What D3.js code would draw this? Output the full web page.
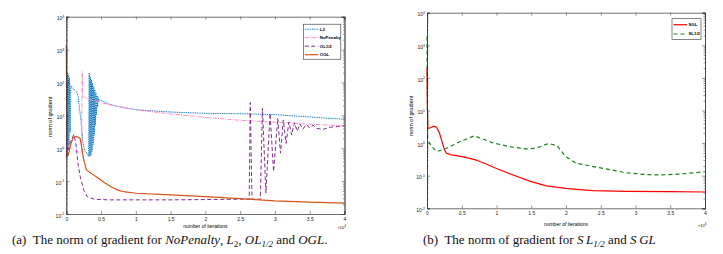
<!DOCTYPE html>
<html>
<head>
<meta charset="utf-8">
<script src="https://cdn.jsdelivr.net/npm/d3@7"></script>
<style>
body { margin: 0; background: #fff; }
svg { display: block; }
</style>
</head>
<body>
<div id="chart"></div>
<script>
// axis ticks (x in units of 10^4 iterations)
var xTicks = [0, 0.5, 1, 1.5, 2, 2.5, 3, 3.5, 4];
var xTickLabels = ["0", "0.5", "1", "1.5", "2", "2.5", "3", "3.5", "4"];
var yTickExps = [-2, -1, 0, 1, 2, 3, 4];

// panel (a): [iterations/1e4, norm of gradient]
var seriesL2 = [[0,0.79],[0.008,1.5],[0.015,200],[0.022,0.9],[0.03,170],[0.038,1.2],[0.046,140],[0.055,3],
  [0.065,80],[0.08,70],[0.1,63.1],[0.125,58.9],[0.15,50.1],[0.17,37.2],[0.19,15.8],[0.21,7.24],[0.24,1.41],
  [0.27,0.79],[0.3,0.71],[0.32,0.56],[0.33,191],[0.338,0.56],[0.346,150],[0.354,0.6],[0.362,120],[0.37,0.8],
  [0.378,95],[0.386,1.3],[0.394,75],[0.402,2.5],[0.41,60],[0.418,5],[0.426,48],[0.434,10],[0.442,40],
  [0.45,18],[0.458,35],[0.466,26],[0.48,30],[0.6,22.4],[0.8,17.4],[1.0,14.8],[1.5,12.6],[2.0,11.5],
  [2.5,11.2],[3.0,10.5],[3.5,8.91],[4.0,7.59]];
var seriesNoPenalty = [[0,0.89],[0.01,1.26],[0.05,1.05],[0.1,0.89],[0.15,0.79],[0.2,0.76],[0.222,0.79],
  [0.228,214],[0.235,39.8],[0.25,36.3],[0.3,31.6],[0.45,26.3],[0.6,21.4],[0.8,17.8],[1.0,14.8],[1.5,11.0],
  [2.0,8.71],[2.5,7.08],[3.0,6.17],[3.5,5.37],[4.0,4.79]];
var seriesOL12 = [[0,0.56],[0.02,0.79],[0.06,1.58],[0.11,2.63],[0.14,1.26],[0.17,0.32],[0.2,0.138],[0.25,0.055],
  [0.3,0.0339],[0.4,0.0282],[0.6,0.0269],[1.0,0.0269],[1.5,0.0269],[2.0,0.0275],[2.5,0.0282],[2.63,0.0282],
  [2.645,24.5],[2.67,0.0282],[2.79,0.0282],[2.82,16.6],[2.87,0.0437],[2.93,11.5],[2.98,0.195],[3.04,8.13],
  [3.08,0.708],[3.12,7.24],[3.16,1.41],[3.2,6.31],[3.24,2.51],[3.28,6.03],[3.32,3.31],[3.36,5.5],[3.4,3.8],
  [3.45,5.25],[3.5,4.17],[3.55,5.01],[3.6,3.98],[3.7,3.8],[3.8,4.37],[3.9,4.57],[4.0,4.79]];
var seriesOGL = [[0,1380],[0.01,0.562],[0.03,0.631],[0.06,1.26],[0.1,2.14],[0.14,2.29],[0.2,2.0],[0.25,0.447],
  [0.29,0.219],[0.35,0.178],[0.45,0.126],[0.55,0.0891],[0.65,0.066],[0.75,0.0525],[0.85,0.0468],[1.0,0.0427],
  [1.5,0.038],[2.0,0.0339],[2.5,0.0295],[3.0,0.0251],[3.5,0.0229],[4.0,0.0214]];

// panel (b)
var seriesSGL = [[0,200],[0.005,15.8],[0.012,2.82],[0.05,2.95],[0.1,3.31],[0.14,3.02],[0.18,2.0],[0.21,1.23],
  [0.25,0.631],[0.28,0.49],[0.35,0.437],[0.47,0.398],[0.6,0.347],[0.71,0.302],[0.85,0.229],[1.0,0.166],
  [1.24,0.105],[1.5,0.066],[1.72,0.049],[2.0,0.0407],[2.2,0.0372],[2.39,0.0347],[2.87,0.0331],[3.5,0.0324],[4.0,0.0316]];
var seriesSL12 = [[0,1820],[0.005,31.6],[0.01,1.23],[0.07,0.776],[0.14,0.55],[0.28,0.692],[0.47,1.1],[0.68,1.66],
  [0.8,1.35],[0.95,1.02],[1.19,0.776],[1.43,0.661],[1.55,0.692],[1.63,0.776],[1.75,0.977],[1.87,0.832],[2.0,0.38],
  [2.15,0.24],[2.39,0.191],[2.87,0.123],[3.1,0.11],[3.35,0.105],[3.64,0.112],[4.0,0.132]];

var svg = d3.select("#chart").append("svg")
  .attr("width", 723)
  .attr("height", 254)
  .style("font-family", "'Liberation Sans', Arial, sans-serif");

function drawPanel(p) {
  var g = svg.append("g").attr("transform", "translate(" + p.left + "," + p.top + ")");
  var x = d3.scaleLinear().domain([0, 4]).range([0, p.width]);
  var y = d3.scaleLog().domain([1e-2, 1e4]).range([p.height, 0]);

  // minor log ticks
  var minor = [];
  yTickExps.slice(0, -1).forEach(function(e) {
    for (var k = 2; k < 10; k++) minor.push(k * Math.pow(10, e));
  });

  // lines
  var line = d3.line()
    .x(function(d) { return x(d[0]); })
    .y(function(d) { return y(d[1]); });
  p.series.forEach(function(s) {
    g.append("path")
      .datum(s.data)
      .attr("fill", "none")
      .attr("stroke", s.color)
      .attr("stroke-width", s.width)
      .attr("stroke-dasharray", s.dash)
      .attr("d", line);
  });

  // axes (MATLAB style box with inward ticks)
  var axL = g.append("g").call(d3.axisLeft(y).tickValues(yTickExps.map(function(e) { return Math.pow(10, e); }))
    .tickSize(-3).tickPadding(2).tickFormat(""));
  axL.selectAll(".tick text").each(function(d) {
    var t = d3.select(this);
    t.append("tspan").text("10").attr("font-size", 5);
    t.append("tspan").text(String(Math.round(Math.log10(d)))).attr("font-size", 3.5).attr("dy", -2.5);
  });
  g.append("g").call(d3.axisLeft(y).tickValues(minor).tickSize(-1.5).tickFormat(""));
  g.append("g").attr("transform", "translate(" + p.width + ",0)")
    .call(d3.axisRight(y).tickValues(yTickExps.map(function(e) { return Math.pow(10, e); })).tickSize(-3).tickFormat(""));
  g.append("g").attr("transform", "translate(" + p.width + ",0)")
    .call(d3.axisRight(y).tickValues(minor).tickSize(-1.5).tickFormat(""));

  g.append("g").attr("transform", "translate(0," + p.height + ")")
    .call(d3.axisBottom(x).tickValues(xTicks).tickSize(-3).tickPadding(3)
      .tickFormat(function(d, i) { return xTickLabels[i]; }))
    .selectAll("text").attr("font-size", 5).attr("fill", "#222");
  g.append("g")
    .call(d3.axisTop(x).tickValues(xTicks).tickSize(-3).tickFormat(""));

  g.selectAll(".domain").attr("stroke", "#333").attr("stroke-width", 0.7);
  g.selectAll(".tick line").attr("stroke", "#333").attr("stroke-width", 0.5);
  g.selectAll(".tick text").attr("fill", "#222");

  // axis labels
  g.append("text")
    .attr("transform", "rotate(-90)")
    .attr("x", -p.yLabelY)
    .attr("y", p.yLabelX)
    .style("text-anchor", "middle")
    .attr("font-size", 5.5)
    .text("norm of gradient");
  g.append("text")
    .attr("x", p.width / 2)
    .attr("y", p.height + p.xLabelDy)
    .style("text-anchor", "middle")
    .attr("font-size", 5)
    .text("number of iterations");
  var mult = g.append("text")
    .attr("x", p.width - 7)
    .attr("y", p.height + p.xLabelDy + 1)
    .attr("font-size", 4);
  mult.append("tspan").text("\u00d710");
  mult.append("tspan").text("4").attr("font-size", 3).attr("dy", -2);

  // legend
  var lg = g.append("g").attr("transform", "translate(" + p.legend.x + "," + p.legend.y + ")");
  lg.append("rect")
    .attr("width", p.legend.w)
    .attr("height", p.legend.h)
    .attr("fill", "#fff")
    .attr("stroke", "#333")
    .attr("stroke-width", 0.6);
  p.series.forEach(function(s, i) {
    var yy = p.legend.first + i * p.legend.step;
    lg.append("line")
      .attr("x1", 1.5).attr("x2", p.legend.lineLen)
      .attr("y1", yy).attr("y2", yy)
      .attr("stroke", s.color)
      .attr("stroke-width", s.width)
      .attr("stroke-dasharray", s.dash);
    lg.append("text")
      .attr("x", p.legend.lineLen + 1.5)
      .attr("y", yy + 1.5)
      .attr("font-size", 4.3)
      .attr("font-weight", "bold")
      .text(s.name);
  });
}

drawPanel({
  left: 66.3, top: 16.7, width: 278.2, height: 197.3,
  yLabelX: -14, yLabelY: 100, xLabelDy: 14,
  legend: {x: 237, y: 7.5, w: 37.5, h: 35, first: 5, step: 8.5, lineLen: 15},
  series: [
    {name: "L2", data: seriesL2, color: "#0072BD", width: 1, dash: "1,0.8"},
    {name: "NoPenalty", data: seriesNoPenalty, color: "#FF8CC6", width: 1, dash: "4,1.2,1,1.2"},
    {name: "OL1/2", data: seriesOL12, color: "#7E2F8E", width: 1, dash: "4,2.5"},
    {name: "OGL", data: seriesOGL, color: "#D95319", width: 1.2, dash: null}
  ]
});

drawPanel({
  left: 427, top: 12.7, width: 278, height: 195.6,
  yLabelX: -14, yLabelY: 103, xLabelDy: 18,
  legend: {x: 245, y: 6, w: 29, h: 20.6, first: 6, step: 9.3, lineLen: 15},
  series: [
    {name: "SGL", data: seriesSGL, color: "#FF0000", width: 1.2, dash: null},
    {name: "SL1/2", data: seriesSL12, color: "#1B7F1B", width: 1.2, dash: "4,3"}
  ]
});

// captions
function caption(xPos, parts) {
  var t = svg.append("text")
    .attr("x", xPos)
    .attr("y", 244)
    .style("font-family", "'Liberation Serif', 'Times New Roman', serif")
    .attr("font-size", 13)
    .attr("fill", "#111");
  parts.forEach(function(pt) {
    var s = t.append("tspan").text(pt.t);
    if (pt.i) s.attr("font-style", "italic");
    if (pt.sub) s.attr("font-size", 9).attr("dy", 3);
    if (pt.up) s.attr("dy", -3);
  });
}
caption(12, [
  {t: "(a)\u00a0 The norm of gradient for "}, {t: "NoPenalty", i: true}, {t: ", "},
  {t: "L", i: true}, {t: "2", sub: true}, {t: ", ", up: true},
  {t: "OL", i: true}, {t: "1/2", sub: true, i: true}, {t: " and ", up: true},
  {t: "OGL", i: true}, {t: "."}
]);
caption(423, [
  {t: "(b)\u00a0 The norm of gradient for "}, {t: "S\u2009L", i: true}, {t: "1/2", sub: true, i: true},
  {t: " and ", up: true}, {t: "S\u2009GL", i: true}
]);
</script>
</body>
</html>
